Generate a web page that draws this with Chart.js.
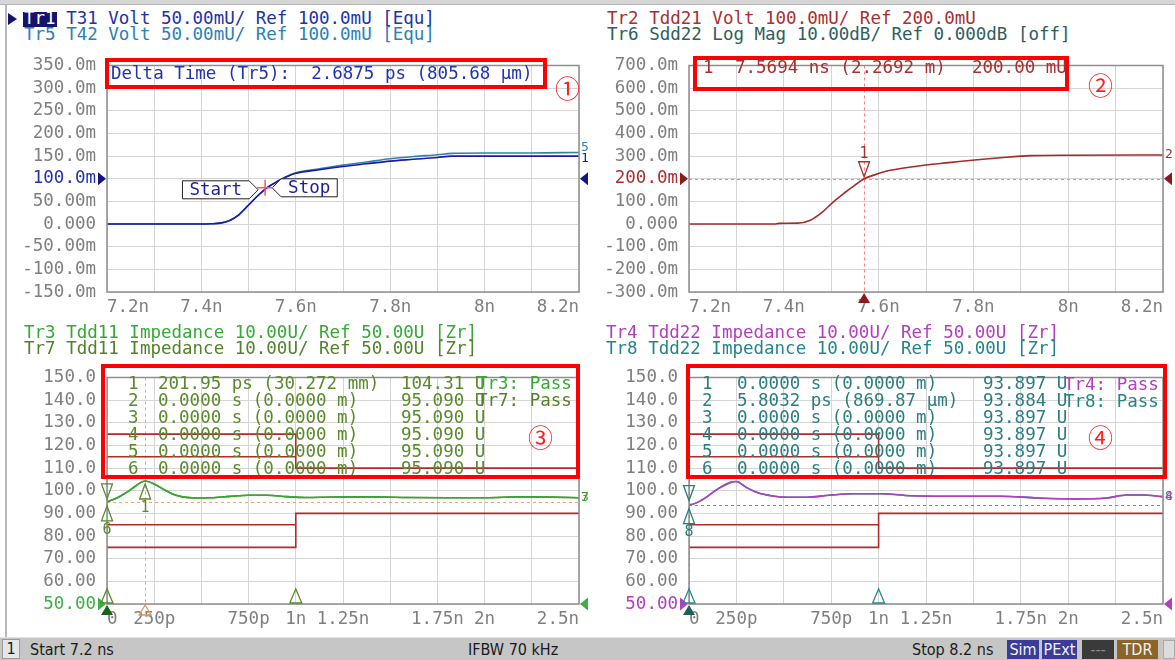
<!DOCTYPE html>
<html lang="en">
<head>
<meta charset="UTF-8">
<meta name="viewport" content="width=device-width, initial-scale=1.0">
<title>TDR traces</title>
<script src="https://cdn.jsdelivr.net/npm/chart.js"></script>
<style>
* { margin: 0; padding: 0; box-sizing: border-box; }
body {
    width: 1175px; height: 660px; position: relative; overflow: hidden;
    background: #fff;
    font-family: 'DejaVu Sans Mono', monospace; font-size: 17.5px;
}
canvas { position: absolute; }
.frame-top { position: absolute; left: 0; top: 0; width: 1175px; height: 5px; background: #d6d6d6; border-bottom: 1px solid #b4b4b4; }
.frame-left { position: absolute; left: 5px; top: 5px; width: 2px; height: 632px; background: #b8b8b8; }
.hdr { position: absolute; white-space: pre; line-height: 16px; }
.txt { position: absolute; white-space: pre; line-height: 17px; }
.tr1box { position: absolute; left: 23px; top: 12px; width: 34px; height: 15px; background: #14146e; }
.arrow { position: absolute; left: 8px; top: 13px; width: 0; height: 0;
    border-top: 6.5px solid transparent; border-bottom: 6.5px solid transparent; border-left: 9px solid #14146e; }
.redbox { position: absolute; border: 4px solid #ff0000; }
.circ { position: absolute; color: #ff2020; font-family: 'Noto Sans CJK SC', 'DejaVu Sans', sans-serif; font-size: 25px; line-height: 25px; }
.status { position: absolute; left: 0; top: 637px; width: 1175px; height: 23px; background: #c6c6c6;
    border-top: 1px solid #e2e2e2;
    font-family: 'Liberation Sans Narrow', 'DejaVu Sans Condensed', sans-serif; font-size: 16px; color: #1a1a1a; }
.sb { position: absolute; top: 2px; line-height: 19px; white-space: pre; }
.sbnum { position: absolute; left: 2px; top: 1px; width: 18px; height: 20px; background: #e6e6e6; border: 1px solid #9a9a9a; text-align: center; line-height: 18px; }
.tag { position: absolute; top: 2px; height: 19px; line-height: 19px; text-align: center; color: #f2f2f2; }
</style>
</head>
<body>
<div class="frame-top"></div>
<div class="frame-left"></div>

<canvas id="cTL" width="590" height="280" style="left:0;top:44px;width:590px;height:280px"></canvas>
<canvas id="cTR" width="585" height="280" style="left:590px;top:44px;width:585px;height:280px"></canvas>
<canvas id="cBL" width="590" height="282" style="left:0;top:356px;width:590px;height:282px"></canvas>
<canvas id="cBR" width="585" height="282" style="left:590px;top:356px;width:585px;height:282px"></canvas>

<!-- trace headers -->
<div class="arrow"></div>
<div class="tr1box"></div>
<div class="hdr" style="left:24px;top:10px;color:#2232a8"><span style="color:#fff">Tr1</span> T31 Volt 50.00mU/ Ref 100.0mU [Equ]</div>
<div class="hdr" style="left:24px;top:26px;color:#2d80b3">Tr5 T42 Volt 50.00mU/ Ref 100.0mU [Equ]</div>
<div class="hdr" style="left:607px;top:10px;color:#a83030">Tr2 Tdd21 Volt 100.0mU/ Ref 200.0mU</div>
<div class="hdr" style="left:607px;top:26px;color:#2f5e5e">Tr6 Sdd22 Log Mag 10.00dB/ Ref 0.000dB [off]</div>
<div class="hdr" style="left:24px;top:324px;color:#36a836">Tr3 Tdd11 Impedance 10.00U/ Ref 50.00U [Zr]</div>
<div class="hdr" style="left:24px;top:340px;color:#52822a">Tr7 Tdd11 Impedance 10.00U/ Ref 50.00U [Zr]</div>
<div class="hdr" style="left:606px;top:324px;color:#b13fbf">Tr4 Tdd22 Impedance 10.00U/ Ref 50.00U [Zr]</div>
<div class="hdr" style="left:606px;top:340px;color:#238585">Tr8 Tdd22 Impedance 10.00U/ Ref 50.00U [Zr]</div>

<!-- marker readouts -->
<div class="txt" style="left:111px;top:65px;color:#2232b0">Delta Time (Tr5):  2.6875 ps (805.68 µm)</div>
<div class="txt" style="left:703px;top:59px;color:#a83030">1</div>
<div class="txt" style="left:735px;top:59px;color:#a83030">7.5694 ns (2.2692 m)</div>
<div class="txt" style="left:972px;top:59px;color:#a83030">200.00 mU</div>

<div class="txt" style="left:128px;top:375px;color:#5a8a2c">1
2
3
4
5
6</div>
<div class="txt" style="left:158px;top:375px;color:#5a8a2c">201.95 ps (30.272 mm)
0.0000 s (0.0000 m)
0.0000 s (0.0000 m)
0.0000 s (0.0000 m)
0.0000 s (0.0000 m)
0.0000 s (0.0000 m)</div>
<div class="txt" style="left:401px;top:375px;color:#5a8a2c">104.31 U
95.090 U
95.090 U
95.090 U
95.090 U
95.090 U</div>
<div class="txt" style="left:477px;top:375px;color:#36a836">Tr3: Pass</div>
<div class="txt" style="left:477px;top:392px;color:#52822a">Tr7: Pass</div>

<div class="txt" style="left:702px;top:375px;color:#2a7e7e">1
2
3
4
5
6</div>
<div class="txt" style="left:737px;top:375px;color:#2a7e7e">0.0000 s (0.0000 m)
5.8032 ps (869.87 µm)
0.0000 s (0.0000 m)
0.0000 s (0.0000 m)
0.0000 s (0.0000 m)
0.0000 s (0.0000 m)</div>
<div class="txt" style="left:983px;top:375px;color:#2a7e7e">93.897 U
93.884 U
93.897 U
93.897 U
93.897 U
93.897 U</div>
<div class="txt" style="left:1064px;top:376px;color:#b13fbf">Tr4: Pass</div>
<div class="txt" style="left:1064px;top:393px;color:#238585">Tr8: Pass</div>

<!-- red highlight boxes -->
<div class="redbox" style="left:105px;top:58px;width:442px;height:31px"></div>
<div class="redbox" style="left:693px;top:56px;width:376px;height:35px"></div>
<div class="redbox" style="left:101px;top:364px;width:479px;height:115px"></div>
<div class="redbox" style="left:686px;top:364px;width:481px;height:115px"></div>
<div class="circ" style="left:555px;top:75px">①</div>
<div class="circ" style="left:1088px;top:72px">②</div>
<div class="circ" style="left:528px;top:424px">③</div>
<div class="circ" style="left:1088px;top:424px">④</div>

<!-- status bar -->
<div class="status">
    <div class="sbnum">1</div>
    <div class="sb" style="left:30px">Start 7.2 ns</div>
    <div class="sb" style="left:468px">IFBW 70 kHz</div>
    <div class="sb" style="left:912px">Stop 8.2 ns</div>
    <div class="tag" style="left:1007px;width:32px;background:#3b3b98">Sim</div>
    <div class="tag" style="left:1042px;width:35px;background:#3b3b98">PExt</div>
    <div class="tag" style="left:1082px;width:32px;background:#3a3a3a;color:#8c8c8c">---</div>
    <div class="tag" style="left:1117px;width:41px;background:#8a6428">TDR</div>
    <div class="tag" style="left:1163px;width:12px;background:#dcdcdc;border:1px solid #aaa"></div>
</div>

<script>
// ---------- data (time in ns, voltage in mU, impedance in U) ----------
const tlTime  = [7.2, 7.3, 7.4, 7.42, 7.44, 7.46, 7.48, 7.5, 7.52, 7.54, 7.56, 7.58, 7.6, 7.65, 7.7, 7.75, 7.8, 7.85, 7.9, 7.93, 8.0, 8.1, 8.2];
const tr1Volt = [0, 0, 0, 0.5, 2, 8, 21, 42, 63, 81, 93, 104, 112, 120, 127, 133, 139, 143, 147, 150, 150, 150, 150];
const tr5Volt = [0, 0, 0, 0.5, 2, 8, 21, 42, 63, 81, 94, 105, 113, 122, 130, 137, 144, 149, 153, 156, 157, 157, 158];
const tlDeltaMark = [7.535, 80];

const trTime  = [7.2, 7.38, 7.39, 7.43, 7.456, 7.48, 7.504, 7.527, 7.55, 7.5694, 7.59, 7.622, 7.661, 7.7, 7.748, 7.803, 7.858, 7.922, 8.0, 8.2];
const tr2Volt = [0, 0, 3, 4, 17, 50, 97, 136, 172, 200, 216, 236, 250, 261, 271, 283, 293, 302, 304, 305];
const tr2Marker = [7.5694, 200];

const blTime = [0, 0.03, 0.07, 0.11, 0.15, 0.202, 0.25, 0.3, 0.35, 0.4, 0.47, 0.55, 0.65, 0.75, 0.85, 0.95, 1.05, 1.2, 1.4, 1.6, 1.8, 2.0, 2.2, 2.35, 2.5];
const tr3Imp = [95.09, 96, 97.6, 99.6, 102, 104.31, 103, 100.6, 98.5, 97.3, 96.8, 96.9, 97.5, 98, 98, 97.4, 97, 97.2, 97.3, 97, 96.9, 96.9, 97.3, 97.2, 96.9];
const tr3Marker = [0.20195, 104.31];
const tr3Ref = 95.09;

const brTime = [0, 0.0058, 0.07, 0.15, 0.22, 0.25, 0.3, 0.36, 0.44, 0.52, 0.62, 0.74, 0.86, 1.01, 1.17, 1.37, 1.64, 1.84, 2.04, 2.2, 2.31, 2.39, 2.5];
const tr4Imp = [93.9, 93.88, 96, 100.7, 103.7, 104.1, 101.6, 99.2, 97.7, 97.1, 97.1, 98, 98.7, 98.7, 97.8, 97.6, 97.6, 96.8, 96.4, 96.8, 98.1, 98.1, 97.4];
const tr4Ref = 93.897;

// limit lines (same on both impedance plots)
const limHiTime = [0, 1, 1, 2.5], limHiVal = [125, 125, 110, 110];
const limHi2Time = [0, 1],        limHi2Val = [115, 115];
const limLoTime = [0, 1, 1, 2.5], limLoVal = [75, 75, 90, 90];
const limLo2Time = [0, 1],        limLo2Val = [85, 85];

// ticks
const nsTicks  = [7.2, 7.3, 7.4, 7.5, 7.6, 7.7, 7.8, 7.9, 8.0, 8.1, 8.2];
const nsLabels = ['7.2n', '', '7.4n', '', '7.6n', '', '7.8n', '', '8n', '', '8.2n'];
const zTicks   = [0, 0.25, 0.5, 0.75, 1, 1.25, 1.5, 1.75, 2, 2.25, 2.5];
const zLabels  = ['0', '250p', '', '750p', '1n', '1.25n', '', '1.75n', '2n', '', '2.5n'];
const tlYTicks  = [-150, -100, -50, 0, 50, 100, 150, 200, 250, 300, 350];
const tlYLabels = ['-150.0m', '-100.0m', '-50.00m', '0.000', '50.00m', '100.0m', '150.0m', '200.0m', '250.0m', '300.0m', '350.0m'];
const trYTicks  = [-300, -200, -100, 0, 100, 200, 300, 400, 500, 600, 700];
const trYLabels = ['-300.0m', '-200.0m', '-100.0m', '0.000', '100.0m', '200.0m', '300.0m', '400.0m', '500.0m', '600.0m', '700.0m'];
const zYTicks   = [50, 60, 70, 80, 90, 100, 110, 120, 130, 140, 150];
const zYLabels  = ['50.00', '60.00', '70.00', '80.00', '90.00', '100.0', '110.0', '120.0', '130.0', '140.0', '150.0'];

// ---------- styling ----------
const C = {
    tr1: '#1c1c9e', tr5: '#2f82b4', tr2: '#a52a2a', tr3: '#36a836', tr7: '#56862a',
    tr4: '#b13fbf', tr8: '#228a8a', limit: '#b22b2b', grid: '#d5d5d5', frame: '#8e8e8e', tick: '#7f7f7f'
};
Chart.defaults.font.family = "'DejaVu Sans Mono', monospace";
Chart.defaults.font.size = 17.5;
Chart.defaults.color = C.tick;

const line = (label, xs, ys, color, smooth) => ({
    label: label,
    data: xs.map((x, i) => ({ x: x, y: ys[i] })),
    borderColor: color,
    borderWidth: 1.6,
    pointRadius: 0,
    fill: false,
    tension: 0,
    cubicInterpolationMode: smooth ? 'monotone' : 'default'
});
const limits = () => [
    line('lim hi', limHiTime, limHiVal, C.limit, false),
    line('lim hi2', limHi2Time, limHi2Val, C.limit, false),
    line('lim lo', limLoTime, limLoVal, C.limit, false),
    line('lim lo2', limLo2Time, limLo2Val, C.limit, false)
];

// ---------- overlay plugin: frame, reference arrows, markers ----------
const marks = {};

function tri(ctx, x, y, dir, w, h, color, filled) {
    ctx.beginPath();
    if (dir === 'down') { ctx.moveTo(x, y); ctx.lineTo(x - w / 2, y - h); ctx.lineTo(x + w / 2, y - h); }
    else if (dir === 'up') { ctx.moveTo(x, y); ctx.lineTo(x - w / 2, y + h); ctx.lineTo(x + w / 2, y + h); }
    else if (dir === 'right') { ctx.moveTo(x, y); ctx.lineTo(x - h, y - w / 2); ctx.lineTo(x - h, y + w / 2); }
    else { ctx.moveTo(x, y); ctx.lineTo(x + h, y - w / 2); ctx.lineTo(x + h, y + w / 2); }
    ctx.closePath();
    if (filled) { ctx.fillStyle = color; ctx.fill(); }
    else { ctx.strokeStyle = color; ctx.lineWidth = 1.3; ctx.stroke(); }
}

function callout(ctx, text, tipX, cy, side, color) {
    const w = ctx.measureText(text).width + 14, h = 18, tip = 9;
    const x0 = side < 0 ? tipX - tip - w : tipX + tip;
    const x1 = x0 + w;
    ctx.beginPath();
    if (side < 0) {
        ctx.moveTo(x0, cy - h / 2); ctx.lineTo(x1, cy - h / 2); ctx.lineTo(tipX, cy);
        ctx.lineTo(x1, cy + h / 2); ctx.lineTo(x0, cy + h / 2);
    } else {
        ctx.moveTo(x1, cy - h / 2); ctx.lineTo(x0, cy - h / 2); ctx.lineTo(tipX, cy);
        ctx.lineTo(x0, cy + h / 2); ctx.lineTo(x1, cy + h / 2);
    }
    ctx.closePath();
    ctx.fillStyle = '#fff'; ctx.fill();
    ctx.strokeStyle = '#222'; ctx.lineWidth = 1; ctx.stroke();
    ctx.fillStyle = color; ctx.textAlign = 'center'; ctx.textBaseline = 'middle';
    ctx.fillText(text, (x0 + x1) / 2, cy + 1);
}

const vnaMarks = {
    id: 'vnaMarks',
    beforeDatasetsDraw(chart) {
        const m = marks[chart.canvas.id];
        const { ctx, chartArea: a, scales: { x, y } } = chart;
        ctx.save();
        ctx.lineWidth = 1;
        ctx.setLineDash([3, 3]);
        (m.dashV || []).forEach(d => {
            const px = Math.round(x.getPixelForValue(d.x)) + 0.5;
            ctx.strokeStyle = d.c;
            ctx.beginPath(); ctx.moveTo(px, a.top); ctx.lineTo(px, a.bottom); ctx.stroke();
        });
        (m.dashH || []).forEach(d => {
            const py = Math.round(y.getPixelForValue(d.y)) + 0.5;
            ctx.strokeStyle = d.c;
            ctx.beginPath(); ctx.moveTo(a.left, py); ctx.lineTo(a.right, py); ctx.stroke();
        });
        ctx.restore();
    },
    afterDatasetsDraw(chart) {
        const m = marks[chart.canvas.id];
        const { ctx, chartArea: a, scales: { x, y } } = chart;
        ctx.save();
        ctx.strokeStyle = C.frame; ctx.lineWidth = 1.5;
        ctx.strokeRect(a.left, a.top, a.right - a.left, a.bottom - a.top);

        // reference position arrows
        const ry = y.getPixelForValue(m.ref.v);
        tri(ctx, a.left - 1, ry, 'right', 13, 8, m.ref.c, true);
        tri(ctx, a.right + 1, ry, 'left', 13, 8, m.ref.c, true);

        // trace numbers at the right edge
        ctx.font = "13px 'DejaVu Sans Mono'"; ctx.textAlign = 'left'; ctx.textBaseline = 'middle';
        (m.ends || []).forEach(e => {
            ctx.fillStyle = e.c;
            ctx.fillText(e.t, a.right + 2, y.getPixelForValue(e.v) + e.dy);
        });

        // markers on traces
        ctx.font = "15px 'DejaVu Sans Mono'"; ctx.textAlign = 'center';
        (m.pts || []).forEach(p => {
            const px = x.getPixelForValue(p.x), py = y.getPixelForValue(p.y);
            ctx.fillStyle = p.c;
            if (p.dir === 'down') {
                tri(ctx, px, py - p.off, 'down', 11, 15, p.c, false);
                if (p.label) ctx.fillText(p.label, px, py - p.off - 23);
            } else {
                tri(ctx, px, py + p.off, 'up', 11, 15, p.c, false);
                if (p.label) ctx.fillText(p.label, px, py + p.off + 24);
            }
        });

        // markers on the time axis
        (m.axis || []).forEach(t => {
            const px = x.getPixelForValue(t.x);
            if (t.below) tri(ctx, px, a.bottom + 1, 'up', 12, 10, t.c, t.fill);
            else tri(ctx, px, a.bottom - 15, 'up', 12, 14, t.c, t.fill);
        });

        // delta time start / stop readout
        if (m.cross) {
            const cx = x.getPixelForValue(m.cross[0]), cy = y.getPixelForValue(m.cross[1]);
            ctx.font = "17.5px 'DejaVu Sans Mono'";
            callout(ctx, 'Start', cx - 7, cy + 2, -1, C.tr1);
            callout(ctx, 'Stop', cx + 7, cy, 1, C.tr1);
            ctx.strokeStyle = '#ff4d6a'; ctx.lineWidth = 1.5;
            ctx.beginPath();
            ctx.moveTo(cx - 8, cy); ctx.lineTo(cx + 8, cy);
            ctx.moveTo(cx, cy - 8); ctx.lineTo(cx, cy + 8);
            ctx.stroke();
        }
        ctx.restore();
    }
};

// ---------- chart builder ----------
function vnaChart(id, o) {
    return new Chart(document.getElementById(id), {
        type: 'line',
        data: { datasets: o.datasets },
        options: {
            responsive: false,
            animation: false,
            events: [],
            layout: { padding: { left: 0, top: o.padTop, right: o.padRight, bottom: 0 } },
            plugins: { legend: { display: false }, tooltip: { enabled: false } },
            scales: {
                x: {
                    type: 'linear',
                    min: o.xTicks[0], max: o.xTicks[o.xTicks.length - 1],
                    afterBuildTicks: s => { s.ticks = o.xTicks.map(v => ({ value: v })); },
                    afterFit: s => { s.height = o.xH; s.paddingLeft = 0; s.paddingRight = 0; },
                    grid: { color: C.grid, drawTicks: false },
                    border: { display: false },
                    ticks: {
                        autoSkip: false, maxRotation: 0, align: 'inner', padding: 5, color: C.tick,
                        callback: (v, i) => o.xLabels[i]
                    }
                },
                y: {
                    type: 'linear',
                    min: o.yTicks[0], max: o.yTicks[o.yTicks.length - 1],
                    afterBuildTicks: s => { s.ticks = o.yTicks.map(v => ({ value: v })); },
                    afterFit: s => { s.width = o.yW; },
                    grid: { color: C.grid, drawTicks: false },
                    border: { display: false },
                    ticks: {
                        autoSkip: false,
                        padding: 11,
                        color: c => (c.tick && c.tick.value === o.refV) ? o.refC : C.tick,
                        callback: (v, i) => o.yLabels[i]
                    }
                }
            }
        },
        plugins: [vnaMarks]
    });
}

// ---------- top left: T31 / T42 step response ----------
marks.cTL = {
    ref: { v: 100, c: '#14148c' },
    ends: [{ t: '5', v: tr5Volt[tr5Volt.length - 1], c: C.tr5, dy: -5 },
           { t: '1', v: tr1Volt[tr1Volt.length - 1], c: C.tr1, dy: 3 }],
    cross: tlDeltaMark
};
vnaChart('cTL', {
    datasets: [line('Tr1', tlTime, tr1Volt, C.tr1, true), line('Tr5', tlTime, tr5Volt, C.tr5, true)],
    xTicks: nsTicks, xLabels: nsLabels, yTicks: tlYTicks, yLabels: tlYLabels,
    refV: 100, refC: '#2232a8', padTop: 13, padRight: 11, yW: 107, xH: 32
});

// ---------- top right: Tdd21 ----------
marks.cTR = {
    ref: { v: 200, c: '#8b1a1a' },
    dashV: [{ x: tr2Marker[0], c: '#ff8080' }],
    dashH: [{ y: tr2Marker[1], c: '#ff8080' }],
    pts: [{ x: tr2Marker[0], y: tr2Marker[1], dir: 'down', off: 2, c: '#a83030', label: '1' }],
    axis: [{ x: tr2Marker[0], fill: true, c: '#8b1a1a', below: true }],
    ends: [{ t: '2', v: tr2Volt[tr2Volt.length - 1], c: C.tr2, dy: 0 }]
};
vnaChart('cTR', {
    datasets: [line('Tr2', trTime, tr2Volt, C.tr2, true)],
    xTicks: nsTicks, xLabels: nsLabels, yTicks: trYTicks, yLabels: trYLabels,
    refV: 200, refC: '#a83030', padTop: 13, padRight: 12, yW: 99, xH: 32
});

// ---------- bottom left: Tdd11 impedance ----------
marks.cBL = {
    ref: { v: 50, c: '#3cb043' },
    dashV: [{ x: 0, c: '#f0a868' }, { x: tr3Marker[0], c: '#f0a868' }],
    dashH: [{ y: tr3Ref, c: '#f0a868' }],
    pts: [{ x: tr3Marker[0], y: tr3Marker[1], dir: 'up', off: 3, c: '#5a8a2c', label: '1' },
          { x: 0, y: tr3Ref, dir: 'down', off: 3, c: '#5a8a2c', label: '' },
          { x: 0, y: tr3Ref, dir: 'up', off: 4, c: '#5a8a2c', label: '6' }],
    axis: [{ x: 0, fill: true, c: '#1f5f1f', below: true }, { x: 0, fill: false, c: '#5a8a2c' },
           { x: tr3Marker[0], fill: false, c: '#d89a5a', below: true }, { x: 1, fill: false, c: '#5a8a2c' }],
    ends: [{ t: '7', v: tr3Imp[tr3Imp.length - 1], c: C.tr7, dy: 0 },
           { t: '3', v: tr3Imp[tr3Imp.length - 1], c: C.tr3, dy: 0 }]
};
vnaChart('cBL', {
    datasets: [line('Tr3', blTime, tr3Imp, C.tr3, true), line('Tr7', blTime, tr3Imp, C.tr7, true)].concat(limits()),
    xTicks: zTicks, xLabels: zLabels, yTicks: zYTicks, yLabels: zYLabels,
    refV: 50, refC: '#3cb043', padTop: 12, padRight: 11, yW: 107, xH: 34
});

// ---------- bottom right: Tdd22 impedance ----------
marks.cBR = {
    ref: { v: 50, c: '#b13fbf' },
    dashV: [{ x: 0, c: '#4aa6a6' }],
    dashH: [{ y: tr4Ref, c: '#4aa6a6' }],
    pts: [{ x: 0, y: tr4Ref, dir: 'down', off: 4, c: '#2a7e7e', label: '' },
          { x: 0, y: tr4Ref, dir: 'up', off: 4, c: '#2a7e7e', label: '8' }],
    axis: [{ x: 0, fill: true, c: '#1d5f5f', below: true }, { x: 0, fill: false, c: '#2a8a8a' },
           { x: 1, fill: false, c: '#2a8a8a' }],
    ends: [{ t: '8', v: tr4Imp[tr4Imp.length - 1], c: C.tr8, dy: 0 },
           { t: '4', v: tr4Imp[tr4Imp.length - 1], c: C.tr4, dy: 0 }]
};
vnaChart('cBR', {
    datasets: [line('Tr4', brTime, tr4Imp, C.tr4, true), line('Tr8', brTime, tr4Imp, C.tr8, true)].concat(limits()),
    xTicks: zTicks, xLabels: zLabels, yTicks: zYTicks, yLabels: zYLabels,
    refV: 50, refC: '#b13fbf', padTop: 12, padRight: 12, yW: 99, xH: 34
});
</script>
</body>
</html>
